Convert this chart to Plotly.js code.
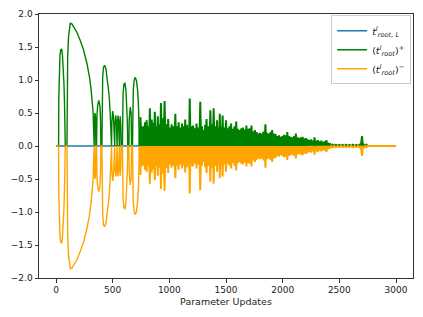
<!DOCTYPE html>
<html><head><meta charset="utf-8">
<script src="https://cdn.plot.ly/plotly-3.0.1.min.js"></script>
<style>html,body{margin:0;padding:0;background:#fff}#chart{width:423px;height:317px}</style>
</head><body><div id="chart"></div>
<script>
// Sparse early arcs of (t_root)^+ : explicit points
const arcX = [0,23,25,29,35,42,49,56,63,70,75,79,82,
  97,99,103,110,118,126,140,160,185,214,244,273,295,310,320,327,331,333,
  337,339,343,348,352,358,361,368,378,388,393,396,
  405,407,412,420,430,440,455,468,478,484,
  490,493,500,507,512,518,521,528,533,536,539,542,548,553,555,559,562,567,572,575,
  586,588,592,600,608,617,625,630,633,643,646,655,663,667,
  675,677,682,690,700,710,720,728,733,736];
const arcY = [0,0,0.75,1.15,1.37,1.46,1.47,1.40,1.22,0.95,0.65,0.35,0,
  0,0.8,1.35,1.65,1.80,1.86,1.85,1.80,1.72,1.60,1.45,1.25,1.05,0.85,0.68,0.52,0.30,0,
  0,0.35,0.50,0.45,0,0,0.45,0.62,0.69,0.60,0.40,0,
  0,0.70,1.05,1.20,1.22,1.17,1.00,0.78,0.50,0,
  0,0.35,0.53,0.45,0,0,0.35,0.46,0.35,0,0,0.35,0.46,0.30,0,0,0.35,0.45,0.30,0,
  0,0.50,0.80,0.94,0.95,0.85,0.62,0.35,0,0,0.40,0.59,0.50,0,
  0,0.55,0.85,1.00,1.04,0.99,0.85,0.60,0.30,0];
// Dense region: peak positions and heights of the short arcs
const peakX = [745,765,785,800,815,828,845,858,872,885,898,912,926,940,958,975,990,1005,1020,1035,
  1053,1068,1082,1097,1112,1127,1140,1156,1168,1180,1195,1210,1225,1240,1256,1273,1288,1303,1316,1328,
  1345,1362,1377,1391,1406,1421,1433,1445,1458,1470,1485,1500,1515,1530,1545,1560,1575,1590,1605,1620,
  1635,1650,1665,1680,1695,1710,1725,1740,1755,1770,1785,1800,1815,1830,1848,1862,1877,1892,1907,1922,
  1937,1952,1967,1982,1997,2012,2027,2041,2056,2071,2086,2101,2116,2131,2146,2161,2176,2191,2206,2221,
  2236,2251,2266,2281,2296,2311,2326,2341,2356,2371,2386,2401,2416,2440,2470,2500,2530,2560,2590,2620,
  2650,2680,2700,2715,2740];
const peakY = [0.44,0.30,0.36,0.39,0.30,0.57,0.40,0.35,0.52,0.30,0.45,0.33,0.65,0.42,0.68,0.33,0.41,0.28,0.33,0.30,
  0.49,0.30,0.36,0.28,0.34,0.30,0.40,0.32,0.28,0.72,0.30,0.31,0.27,0.34,0.28,0.67,0.30,0.24,0.32,0.41,
  0.30,0.54,0.33,0.57,0.30,0.39,0.28,0.49,0.30,0.46,0.28,0.39,0.27,0.30,0.34,0.26,0.30,0.37,0.26,0.24,
  0.27,0.28,0.25,0.31,0.26,0.27,0.31,0.22,0.24,0.21,0.19,0.20,0.19,0.22,0.33,0.20,0.19,0.21,0.24,0.19,
  0.18,0.15,0.16,0.14,0.15,0.17,0.16,0.21,0.15,0.14,0.13,0.15,0.19,0.13,0.12,0.13,0.14,0.11,0.12,0.10,
  0.09,0.10,0.08,0.13,0.08,0.09,0.07,0.08,0.06,0.07,0.09,0.05,0.04,0.02,0.02,0.02,0.015,0.02,0.015,0.02,
  0.015,0.02,0.15,0.03,0.02];
const xEnd = 3000;
const xTicks = [0,500,1000,1500,2000,2500,3000];
const yTicks = [-2,-1.5,-1,-0.5,0,0.5,1,1.5,2];

// build dense arc table: series returns to zero between consecutive arcs
const dX = [736], dY = [0];
for (let i = 0; i < peakX.length; i++) {
  dX.push(peakX[i]); dY.push(peakY[i]);
  const nx = i < peakX.length - 1 ? (peakX[i] + peakX[i+1]) / 2 : peakX[i] + 8;
  dX.push(nx); dY.push(0);
}
dX.push(xEnd); dY.push(0);
const neg = a => a.map(v => -v);

const BLUE = '#1f77b4', GREEN = '#008000', ORANGE = '#ffa500';
const traces = [
  {x:[0,xEnd], y:[0,0], mode:'lines', line:{color:BLUE,width:1.4},
   name:'<i>t</i><sup><i>l</i></sup><sub><i>root, L</i></sub>'},
  {x:arcX, y:arcY, mode:'lines', line:{color:GREEN,width:1.4},
   name:'(<i>t</i><sup><i>l</i></sup><sub><i>root</i></sub>)<sup>+</sup>', legendgroup:'g'},
  {x:dX, y:dY, mode:'lines', line:{color:GREEN,width:2}, fill:'tozeroy', fillcolor:GREEN,
   showlegend:false, legendgroup:'g'},
  {x:arcX, y:neg(arcY), mode:'lines', line:{color:ORANGE,width:1.4},
   name:'(<i>t</i><sup><i>l</i></sup><sub><i>root</i></sub>)<sup>\u2212</sup>', legendgroup:'o'},
  {x:dX, y:neg(dY), mode:'lines', line:{color:ORANGE,width:2}, fill:'tozeroy', fillcolor:ORANGE,
   showlegend:false, legendgroup:'o'}
];
const axisCommon = {showgrid:false, zeroline:false, showline:true, mirror:true,
  linecolor:'#333', linewidth:1, ticks:'outside', ticklen:3.5, tickcolor:'#333', tickwidth:1,
  tickfont:{family:'DejaVu Sans', size:9, color:'#222'}};
const layout = {
  width:423, height:317, paper_bgcolor:'#fff', plot_bgcolor:'#fff',
  margin:{l:39, r:10, t:14, b:39},
  showlegend:true,
  xaxis:Object.assign({}, axisCommon, {range:[-150,3150], tickvals:xTicks,
    title:{text:'Parameter Updates', font:{family:'DejaVu Sans', size:9.5, color:'#222'}, standoff:4}}),
  yaxis:Object.assign({}, axisCommon, {range:[-2,2], tickvals:yTicks, tickformat:'.1f'}),
  legend:{x:0.995, xanchor:'right', y:0.995, yanchor:'top', bgcolor:'rgba(255,255,255,0.8)',
    bordercolor:'#cccccc', borderwidth:1, font:{family:'DejaVu Sans', size:9.5, color:'#222'},
    tracegroupgap:0, itemwidth:30}
};
Plotly.newPlot('chart', traces, layout, {staticPlot:true, displayModeBar:false});
</script></body></html>
